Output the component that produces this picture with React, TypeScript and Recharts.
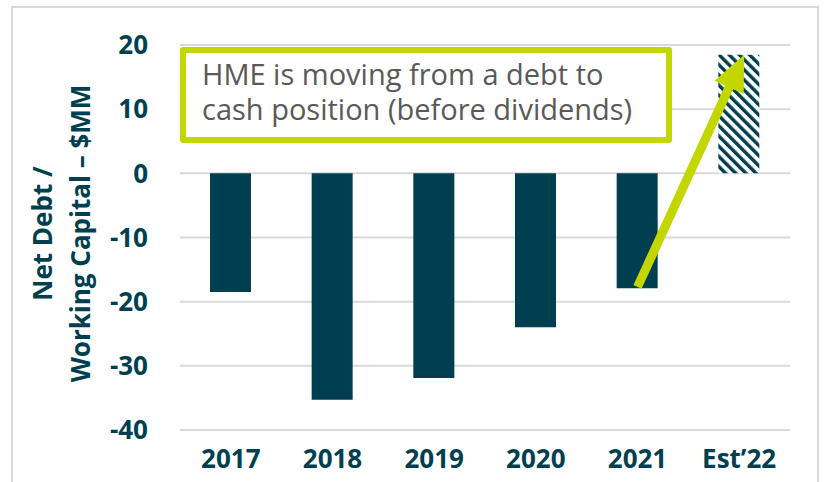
import React from 'react';
import { BarChart, Bar, XAxis, YAxis, CartesianGrid, Cell, ReferenceLine } from 'recharts';

const categories = ['2017', '2018', '2019', '2020', '2021', 'Est\u201922'];
const netDebt = [-18.5, -35.3, -31.9, -24.0, -17.9, 18.5];
const yTicks = [-40, -30, -20, -10, 0, 10, 20];
const arrowFrom = { x: '2021', y: -17.7 };
const arrowTo = { x: 'Est\u201922', y: 18.5 };
const annotation = ['HME is moving from a debt to', 'cash position (before dividends)'];
const yTitle = ['Net Debt /', 'Working Capital \u2013 $MM'];

const data = categories.map((c, i) => ({ cat: c, v: netDebt[i] }));

const DARK = '#003f50';
const LIME = '#c4d600';
const FONT = '"Open Sans", sans-serif';

const ArrowShape = (props: any) => {
  const { x1, y1, x2, y2 } = props;
  if ([x1, y1, x2, y2].some((v) => typeof v !== 'number' || isNaN(v))) return null;
  const tx = x2 + 5;
  const ty = y2;
  const dx = tx - x1;
  const dy = ty - y1;
  const len = Math.sqrt(dx * dx + dy * dy);
  const ux = dx / len;
  const uy = dy / len;
  const px = -uy;
  const py = ux;
  const headLen = 36;
  const headHalf = 16;
  const bx = tx - ux * headLen;
  const by = ty - uy * headLen;
  return (
    <g>
      <line x1={x1} y1={y1} x2={bx + ux * 4} y2={by + uy * 4} stroke={LIME} strokeWidth={9} />
      <polygon
        points={`${tx},${ty} ${bx + px * headHalf},${by + py * headHalf} ${bx - px * headHalf},${by - py * headHalf}`}
        fill={LIME}
      />
    </g>
  );
};

const YTitle = (props: any) => {
  const vb = props.viewBox || {};
  const cy = (vb.y ?? 45) + (vb.height ?? 385) / 2 - 4;
  const x1 = 52;
  const x2 = 90;
  return (
    <g fill={DARK} fontFamily={FONT} fontWeight={700} fontSize={26}>
      <text x={x1} y={cy} textAnchor="middle" transform={`rotate(-90, ${x1}, ${cy})`}>
        {yTitle[0]}
      </text>
      <text x={x2} y={cy} textAnchor="middle" transform={`rotate(-90, ${x2}, ${cy})`}>
        {yTitle[1]}
      </text>
    </g>
  );
};

export default function App() {
  return (
    <div style={{ position: 'absolute', left: 0, top: 0, width: 825, height: 482, background: '#fff', overflow: 'hidden' }}>
      <svg width={0} height={0} style={{ position: 'absolute' }}>
        <defs>
          <pattern id="hatch" patternUnits="userSpaceOnUse" width={7.2} height={7.2} patternTransform="rotate(-45)">
            <rect x={0} y={0} width={7.2} height={7.2} fill="#ffffff" />
            <rect x={0} y={0} width={3.4} height={7.2} fill={DARK} />
          </pattern>
        </defs>
      </svg>
      <div
        style={{
          position: 'absolute',
          left: 11,
          top: 6,
          width: 804,
          height: 500,
          border: '2px solid #d9d9d9',
        }}
      />
      <div style={{ position: 'absolute', left: 0, top: 0 }}>
        <BarChart
          width={825}
          height={482}
          data={data}
          margin={{ top: 45, right: 35, bottom: 0, left: 0 }}
          barCategoryGap={0}
        >
          <CartesianGrid vertical={false} stroke="#d9d9d9" strokeWidth={2} />
          <XAxis
            dataKey="cat"
            axisLine={false}
            tickLine={false}
            tickSize={0}
            tickMargin={20}
            height={52}
            interval={0}
            tick={{ fill: DARK, fontFamily: FONT, fontWeight: 700, fontSize: 26 }}
          />
          <YAxis
            width={180}
            domain={[-40, 20]}
            ticks={yTicks}
            axisLine={false}
            tickLine={false}
            tickSize={0}
            tickMargin={32}
            interval={0}
            tick={{ fill: DARK, fontFamily: FONT, fontWeight: 700, fontSize: 26 }}
            label={<YTitle />}
          />
          <Bar dataKey="v" barSize={41} isAnimationActive={false}>
            {data.map((d, i) => (
              <Cell key={d.cat} fill={i === data.length - 1 ? 'url(#hatch)' : DARK} />
            ))}
          </Bar>
          <ReferenceLine
            segment={[arrowFrom, arrowTo]}
            shape={<ArrowShape />}
            ifOverflow="visible"
          />
        </BarChart>
      </div>
      <div
        style={{
          position: 'absolute',
          left: 180,
          top: 47,
          width: 492,
          height: 96,
          border: `6px solid ${LIME}`,
          borderRadius: 3,
          background: '#fff',
          boxSizing: 'border-box',
          fontFamily: FONT,
          fontSize: 29,
          lineHeight: '35px',
          color: '#595959',
        }}
      >
        <div style={{ position: 'absolute', left: 16, top: 3, whiteSpace: 'nowrap' }}>
          {annotation[0]}
          <br />
          {annotation[1]}
        </div>
      </div>
    </div>
  );
}
